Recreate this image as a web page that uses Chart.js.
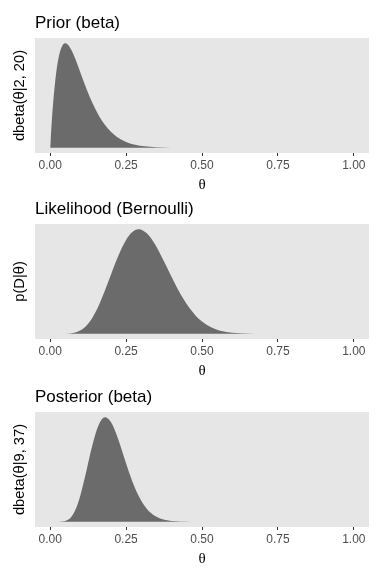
<!DOCTYPE html>
<html><head><meta charset="utf-8">
<script src="https://cdn.jsdelivr.net/npm/chart.js@4/dist/chart.umd.min.js"></script>
<style>
html,body{margin:0;padding:0;background:#fff;width:384px;height:576px;overflow:hidden;}
.panel{position:absolute;left:0;width:384px;height:194px;}
canvas{display:block;}
</style></head><body>
<div class="panel" style="top:0px"><canvas id="c1" width="384" height="194"></canvas></div>
<div class="panel" style="top:186px"><canvas id="c2" width="384" height="194"></canvas></div>
<div class="panel" style="top:374px"><canvas id="c3" width="384" height="194"></canvas></div>
<script>
// ---- data ----
const xTicks = [0, 0.25, 0.5, 0.75, 1];

const thetaPrior = [0, 0.005, 0.01, 0.02, 0.03, 0.04, 0.05, 0.06, 0.07, 0.08, 0.09, 0.10, 0.12, 0.14, 0.16, 0.18, 0.20, 0.22, 0.25, 0.28, 0.31, 0.35, 0.40, 0.45, 0.50, 0.60, 0.80, 1.00];
const priorDensity = [0, 1.909, 3.470, 5.722, 7.064, 7.735, 7.924, 7.777, 7.405, 6.891, 6.298, 5.674, 4.443, 3.350, 2.448, 1.742, 1.211, 0.823, 0.444, 0.229, 0.113, 0.041, 0.010, 0.002, 0.0004, 0, 0, 0];

const thetaLik = [0, 0.05, 0.08, 0.10, 0.12, 0.14, 0.16, 0.18, 0.20, 0.22, 0.24, 0.26, 0.28, 0.2917, 0.30, 0.32, 0.34, 0.36, 0.38, 0.40, 0.42, 0.44, 0.46, 0.48, 0.50, 0.53, 0.56, 0.60, 0.65, 0.70, 0.80, 1.00];
const likelihood = [0, 3.3e-10, 5.08e-9, 1.668e-8, 4.08e-8, 8.12e-8, 1.385e-7, 2.098e-7, 2.882e-7, 3.653e-7, 4.318e-7, 4.806e-7, 5.067e-7, 5.108e-7, 5.088e-7, 4.883e-7, 4.494e-7, 3.974e-7, 3.382e-7, 2.773e-7, 2.193e-7, 1.672e-7, 1.230e-7, 8.72e-8, 5.96e-8, 3.13e-8, 1.50e-8, 4.81e-9, 8.7e-10, 1.1e-10, 0, 0];

const thetaPost = [0, 0.02, 0.03, 0.04, 0.05, 0.06, 0.07, 0.08, 0.09, 0.10, 0.12, 0.14, 0.16, 0.18, 0.20, 0.22, 0.24, 0.26, 0.28, 0.30, 0.32, 0.34, 0.36, 0.38, 0.40, 0.43, 0.46, 0.50, 0.55, 0.60, 0.80, 1.00];
const posteriorDensity = [0, 0.0001, 0.0018, 0.012, 0.049, 0.144, 0.337, 0.665, 1.151, 1.797, 3.440, 5.161, 6.439, 6.938, 6.625, 5.709, 4.495, 3.265, 2.203, 1.388, 0.819, 0.454, 0.237, 0.116, 0.054, 0.015, 0.0037, 0.0005, 0.00002, 0, 0, 0];

const panelTitles = ["Prior (beta)", "Likelihood (Bernoulli)", "Posterior (beta)"];
const yTitles = ["dbeta(\u03B8|2, 20)", "p(D|\u03B8)", "dbeta(\u03B8|9, 37)"];
const xTitle = "\u03B8";

// ---- plugins ----
const panelBg = {
  id: 'panelBg',
  beforeDraw(chart) {
    const {ctx, chartArea: a} = chart;
    ctx.save();
    ctx.fillStyle = '#E6E6E6';
    ctx.fillRect(a.left, a.top, a.right - a.left, a.bottom - a.top);
    ctx.restore();
  }
};
const panelTitle = {
  id: 'panelTitle',
  afterDraw(chart, args, opts) {
    const {ctx, chartArea: a} = chart;
    ctx.save();
    ctx.font = '17px "Liberation Sans", Arial, sans-serif';
    ctx.fillStyle = '#000000';
    ctx.textBaseline = 'alphabetic';
    ctx.textAlign = 'left';
    ctx.fillText(opts.text, a.left, 28);
    ctx.restore();
  }
};

function makeChart(id, xs, ys, title, yTitle) {
  const pts = xs.map((x, i) => ({x: x, y: ys[i]}));
  const ymax = Math.max(...ys);
  return new Chart(document.getElementById(id), {
    type: 'line',
    data: {
      datasets: [{
        data: pts,
        fill: 'origin',
        backgroundColor: '#6B6B6B',
        borderWidth: 0,
        borderColor: 'rgba(0,0,0,0)',
        pointRadius: 0,
        cubicInterpolationMode: 'monotone'
      }]
    },
    options: {
      responsive: false,
      animation: false,
      events: [],
      layout: {padding: {top: 38, right: 15, bottom: 0, left: 0}},
      plugins: {
        legend: {display: false},
        tooltip: {enabled: false},
        panelTitle: {text: title}
      },
      scales: {
        x: {
          type: 'linear',
          min: -0.05, max: 1.05,
          afterBuildTicks(scale) { scale.ticks = xTicks.map(v => ({value: v})); },
          afterFit(scale) { scale.height = 41; },
          border: {display: false},
          grid: {display: true, drawOnChartArea: false, drawTicks: true, tickLength: 3, tickColor: '#333333', tickWidth: 1},
          ticks: {
            autoSkip: false, maxRotation: 0, padding: 2,
            color: '#4D4D4D',
            font: {family: '"Liberation Sans", Arial, sans-serif', size: 12},
            callback: v => Number(v).toFixed(2)
          },
          title: {
            display: true, text: xTitle, color: '#000000',
            font: {family: '"Liberation Serif", "DejaVu Serif", serif', size: 15, lineHeight: 1.2},
            padding: {top: 0, bottom: 0}
          }
        },
        y: {
          type: 'linear',
          min: -0.05 * ymax, max: 1.05 * ymax,
          afterFit(scale) { scale.width = 35; },
          border: {display: false},
          grid: {display: false},
          ticks: {display: false},
          title: {
            display: true, text: yTitle, color: '#000000',
            font: {family: '"Liberation Sans", Arial, sans-serif', size: 14.7, lineHeight: 1.2},
            padding: {top: 11, bottom: 0}
          }
        }
      }
    },
    plugins: [panelBg, panelTitle]
  });
}

makeChart('c1', thetaPrior, priorDensity, panelTitles[0], yTitles[0]);
makeChart('c2', thetaLik, likelihood, panelTitles[1], yTitles[1]);
makeChart('c3', thetaPost, posteriorDensity, panelTitles[2], yTitles[2]);
</script>
</body></html>
